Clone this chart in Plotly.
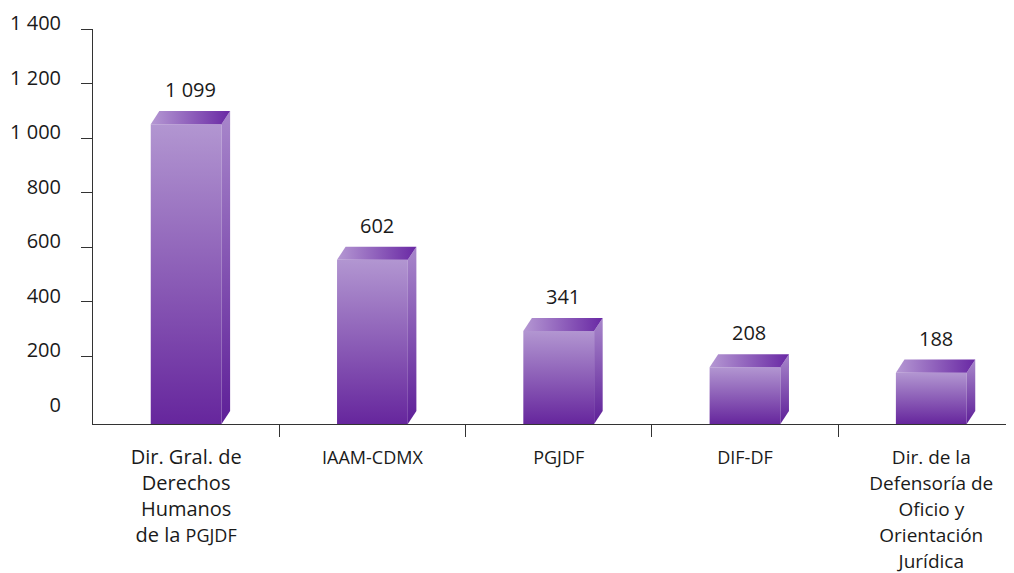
import plotly.graph_objects as go

# ---- data ----
categories = [
    "Dir. Gral. de<br>Derechos<br>Humanos<br>de la <span style='font-size:18px'>PGJDF</span>",
    "<span style='font-size:18px'>IAAM-CDMX</span>",
    "<span style='font-size:18px'>PGJDF</span>",
    "<span style='font-size:18px'>DIF-DF</span>",
    "<span style='font-size:19px'>Dir. de la</span><br>"
    "<span style='font-size:19px'>Defensoría de</span><br>"
    "<span style='font-size:19px'>Oficio y</span><br>"
    "<span style='font-size:19px'>Orientación</span><br>"
    "<span style='font-size:19px'>Jurídica</span>",
]
values = [1099, 602, 341, 208, 188]
value_labels = ["1 099", "602", "341", "208", "188"]
y_tick_vals = [0, 200, 400, 600, 800, 1000, 1200, 1400]
y_tick_text = ["0", "200", "400", "600", "800", "1 000", "1 200", "1 400"]

# ---- styling of the pseudo-3D bars ----
W = 0.38      # front face width (category units)
DX = 0.046    # depth offset, x (category units)
DY = 48       # depth offset, y (data units)
FONT = "Open Sans"

front_cs = [[0, "#66269D"], [1, "#B296D1"]]
side_cs = [[0, "#5E1F98"], [1, "#A887CB"]]
top_cs = [[0, "#B598D3"], [1, "#6928A4"]]

fig = go.Figure()
xs = list(range(len(values)))
for i, v in zip(xs, values):
    l, r = i - W / 2, i + W / 2
    # front face
    fig.add_trace(go.Scatter(
        x=[l, r, r, l, l], y=[-DY, -DY, v - DY, v - DY, -DY],
        fill="toself", mode="none", hoverinfo="skip", showlegend=False,
        fillgradient=dict(type="vertical", colorscale=front_cs)))
    # side face
    fig.add_trace(go.Scatter(
        x=[r, r + DX, r + DX, r, r], y=[-DY, 0, v, v - DY, -DY],
        fill="toself", mode="none", hoverinfo="skip", showlegend=False,
        fillgradient=dict(type="vertical", colorscale=side_cs)))
    # top face
    fig.add_trace(go.Scatter(
        x=[l, l + DX, r + DX, r, l], y=[v - DY, v, v, v - DY, v - DY],
        fill="toself", mode="none", hoverinfo="skip", showlegend=False,
        fillgradient=dict(type="horizontal", colorscale=top_cs)))

for i, v, t in zip(xs, values, value_labels):
    fig.add_annotation(x=i + DX / 2, y=v, text=t, showarrow=False,
                       yanchor="bottom", yshift=6,
                       font=dict(family=FONT, size=20, color="#1a1a1a"))

# the page body has an 8px default margin, so the figure is sized to fit
fig.update_layout(
    width=1006, height=565,
    margin=dict(l=85, r=0, t=21, b=149),
    paper_bgcolor="white", plot_bgcolor="white",
    font=dict(family=FONT, size=20, color="#1a1a1a"),
    showlegend=False, hovermode=False,
    xaxis=dict(
        range=[-0.5, 4.444], showgrid=False, zeroline=False, automargin=False,
        showline=True, linecolor="#333333", linewidth=1,
        tickmode="array", tickvals=xs, ticktext=categories,
        ticks="", ticklabelstandoff=15,
        minor=dict(tickmode="array", tickvals=[0.5, 1.5, 2.5, 3.5],
                   ticks="outside", ticklen=12, tickcolor="#333333", tickwidth=1),
    ),
    yaxis=dict(
        range=[-DY, 1400], showgrid=False, zeroline=False, automargin=False,
        showline=True, linecolor="#333333", linewidth=1,
        tickmode="array", tickvals=y_tick_vals, ticktext=y_tick_text,
        ticks="", ticklabelstandoff=27, ticklabelshift=-6,
    ),
    yaxis2=dict(
        overlaying="y", matches="y", side="left", range=[-DY, 1400],
        showgrid=False, zeroline=False, showline=False, automargin=False,
        tickmode="array", tickvals=y_tick_vals[1:], showticklabels=False,
        ticks="outside", ticklen=11, tickcolor="#333333", tickwidth=1,
    ),
)
# invisible trace so that the tick-mark axis (yaxis2) is drawn
fig.add_trace(go.Scatter(x=[0], y=[0], yaxis="y2", mode="none",
                         hoverinfo="skip", showlegend=False))

fig.write_html("out.html")
